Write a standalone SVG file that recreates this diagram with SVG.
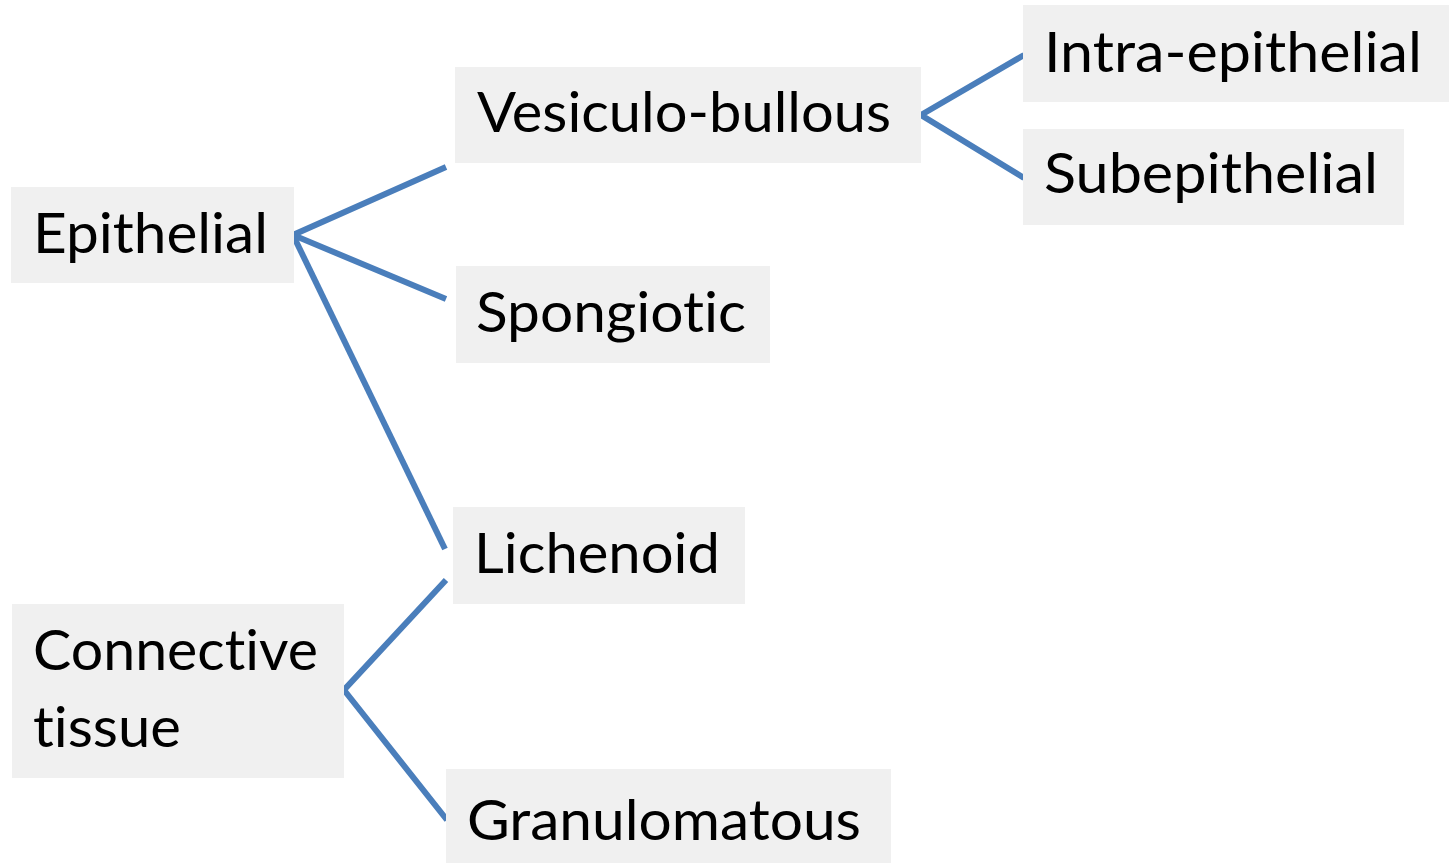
<svg xmlns="http://www.w3.org/2000/svg" width="1449" height="863" viewBox="0 0 1449 863">
<style>
.box{fill:#f0f0f0}
.t{font-family:Lato,"Open Sans","Liberation Sans",sans-serif;font-size:56px;fill:#000;font-variant-ligatures:none;font-feature-settings:"liga" 0}
.c{stroke:#4a7ebb;stroke-width:6;fill:none;stroke-linecap:butt;stroke-linejoin:miter}
</style>
<rect width="1449" height="863" fill="#fff"/>
<g id="connectors">
<polyline class="c" points="446,167 293,235 446,299"/>
<line class="c" x1="293" y1="235" x2="445" y2="549"/>
<polyline class="c" points="1024,55 921,115 1024,178"/>
<polyline class="c" points="446,580 344,690 447,820"/>
</g>
<g id="epithelial"><rect class="box" x="11" y="187" width="283" height="96"/><text class="t" x="33" y="253" textLength="235" lengthAdjust="spacingAndGlyphs">Epithelial</text></g>
<g id="vesiculo"><rect class="box" x="455" y="67" width="466" height="96"/><text class="t" x="477" y="132" textLength="414" lengthAdjust="spacingAndGlyphs">Vesiculo-bullous</text></g>
<g id="intra"><rect class="box" x="1023" y="5" width="426" height="97"/><text class="t" x="1044" y="72" textLength="378" lengthAdjust="spacingAndGlyphs">Intra-epithelial</text></g>
<g id="subepithelial"><rect class="box" x="1023" y="129" width="381" height="96"/><text class="t" x="1044" y="193" textLength="334" lengthAdjust="spacingAndGlyphs">Subepithelial</text></g>
<g id="spongiotic"><rect class="box" x="456" y="266" width="314" height="97"/><text class="t" x="476" y="332" textLength="270" lengthAdjust="spacingAndGlyphs">Spongiotic</text></g>
<g id="lichenoid"><rect class="box" x="453" y="507" width="292" height="97"/><text class="t" x="474" y="573" textLength="246" lengthAdjust="spacingAndGlyphs">Lichenoid</text></g>
<g id="connective"><rect class="box" x="12" y="604" width="332" height="174"/><text class="t" x="33" y="670" textLength="285" lengthAdjust="spacingAndGlyphs">Connective</text><text class="t" x="33" y="747" textLength="148" lengthAdjust="spacingAndGlyphs">tissue</text></g>
<g id="granulomatous"><rect class="box" x="446" y="769" width="445" height="110"/><text class="t" x="467" y="840" textLength="394" lengthAdjust="spacingAndGlyphs">Granulomatous</text></g>
</svg>
